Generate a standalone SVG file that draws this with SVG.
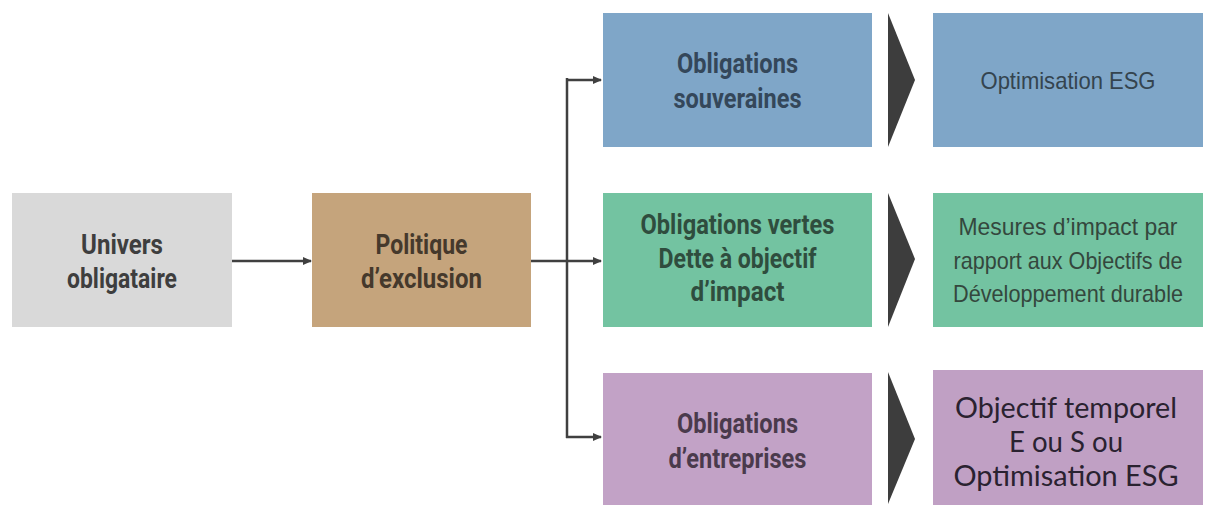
<svg xmlns="http://www.w3.org/2000/svg" width="1210" height="507" viewBox="0 0 1210 507">
<defs>
<style>
.c{font-family:Roboto,"Liberation Sans",sans-serif;font-weight:bold;font-size:28px;text-anchor:middle}
.a{font-family:"Liberation Sans",Arial,sans-serif;font-size:24px;text-anchor:middle}
.k{font-family:Lato,"Open Sans",sans-serif;font-size:28px;text-anchor:middle;fill:#2a2230}
.ln{fill:none;stroke:#404040;stroke-width:2.5}
.chev{fill:#3d3d3d}
</style>
<marker id="ah" markerWidth="10" markerHeight="10" refX="8" refY="5" orient="auto" markerUnits="userSpaceOnUse">
<path d="M0,1 L9,5 L0,9 Z" fill="#404040"/>
</marker>
</defs>
<rect width="1210" height="507" fill="#ffffff"/>
<g id="connectors">
<line class="ln" x1="232" y1="261" x2="311" y2="261" marker-end="url(#ah)"/>
<line class="ln" x1="531" y1="261" x2="601" y2="261" marker-end="url(#ah)"/>
<line class="ln" x1="567" y1="78" x2="567" y2="438"/>
<line class="ln" x1="566" y1="80" x2="601" y2="80" marker-end="url(#ah)"/>
<line class="ln" x1="566" y1="437" x2="601" y2="437" marker-end="url(#ah)"/>
<polygon class="chev" points="888,13 915,80 888,147"/>
<polygon class="chev" points="888,193 915,259 888,327"/>
<polygon class="chev" points="888,372 915,439 888,504"/>
</g>
<g id="univers">
<rect x="12" y="193" width="220" height="134" fill="#d9d9d9"/>
<text class="c" fill="#3e3e3e" x="122" y="254" textLength="82" lengthAdjust="spacingAndGlyphs">Univers</text>
<text class="c" fill="#3e3e3e" x="122" y="288" textLength="110" lengthAdjust="spacingAndGlyphs">obligataire</text>
</g>
<g id="exclusion">
<rect x="312" y="193" width="219" height="134" fill="#c5a47c"/>
<text class="c" fill="#45392c" x="421.5" y="254" textLength="92" lengthAdjust="spacingAndGlyphs">Politique</text>
<text class="c" fill="#45392c" x="421.5" y="288" textLength="121" lengthAdjust="spacingAndGlyphs">d’exclusion</text>
</g>
<g id="souveraines">
<rect x="603" y="13" width="269" height="134" fill="#7fa6c8"/>
<text class="c" fill="#34475a" x="737.5" y="73" textLength="121" lengthAdjust="spacingAndGlyphs">Obligations</text>
<text class="c" fill="#34475a" x="737.5" y="108" textLength="128" lengthAdjust="spacingAndGlyphs">souveraines</text>
</g>
<g id="vertes">
<rect x="603" y="193" width="269" height="134" fill="#73c3a1"/>
<text class="c" fill="#2f4d3e" x="737.5" y="234" textLength="194" lengthAdjust="spacingAndGlyphs">Obligations vertes</text>
<text class="c" fill="#2f4d3e" x="737.5" y="268" textLength="158" lengthAdjust="spacingAndGlyphs">Dette à objectif</text>
<text class="c" fill="#2f4d3e" x="737.5" y="301" textLength="94" lengthAdjust="spacingAndGlyphs">d’impact</text>
</g>
<g id="entreprises">
<rect x="603" y="373" width="269" height="132" fill="#c2a2c6"/>
<text class="c" fill="#4a3a4c" x="737.5" y="433" textLength="121" lengthAdjust="spacingAndGlyphs">Obligations</text>
<text class="c" fill="#4a3a4c" x="737.5" y="468" textLength="138" lengthAdjust="spacingAndGlyphs">d’entreprises</text>
</g>
<g id="optimisation">
<rect x="933" y="13" width="270" height="134" fill="#7fa6c8"/>
<text class="a" fill="#34444f" x="1068" y="89" textLength="175" lengthAdjust="spacingAndGlyphs">Optimisation ESG</text>
</g>
<g id="mesures">
<rect x="933" y="193" width="270" height="134" fill="#73c3a1"/>
<text class="a" fill="#34473d" x="1068" y="235" textLength="219" lengthAdjust="spacingAndGlyphs">Mesures d’impact par</text>
<text class="a" fill="#34473d" x="1068" y="269" textLength="229" lengthAdjust="spacingAndGlyphs">rapport aux Objectifs de</text>
<text class="a" fill="#34473d" x="1068" y="302" textLength="230" lengthAdjust="spacingAndGlyphs">Développement durable</text>
</g>
<g id="temporel">
<rect x="933" y="370" width="270" height="135" fill="#c0a0c4"/>
<text class="k" x="1066" y="418" textLength="222" lengthAdjust="spacingAndGlyphs">Objectif temporel</text>
<text class="k" x="1066" y="452" textLength="114" lengthAdjust="spacingAndGlyphs">E ou S ou</text>
<text class="k" x="1066" y="486" textLength="225" lengthAdjust="spacingAndGlyphs">Optimisation ESG</text>
</g>
</svg>
